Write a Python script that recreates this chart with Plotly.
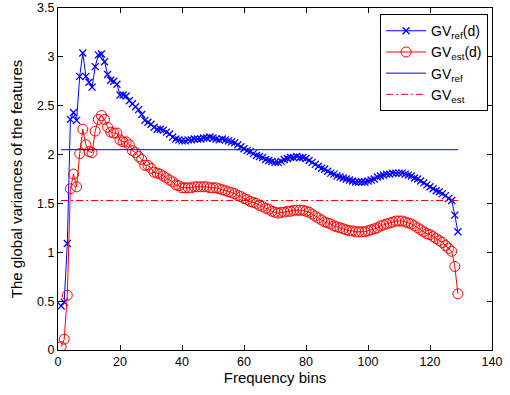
import plotly.graph_objects as go

bins = list(range(1, 130))

gv_ref_d = [0.45, 0.49, 1.09, 2.36, 2.43, 2.35, 2.80, 3.04, 2.80, 2.74,
            2.69, 2.90, 3.02, 3.03, 2.95, 2.82, 2.76, 2.75, 2.72, 2.61,
            2.61, 2.60, 2.55, 2.52, 2.49, 2.46, 2.41, 2.35, 2.33, 2.31,
            2.28, 2.26, 2.26, 2.25, 2.23, 2.21, 2.18, 2.16, 2.15, 2.14,
            2.14, 2.15, 2.15, 2.16, 2.16, 2.16, 2.17, 2.17, 2.18, 2.17,
            2.16, 2.15, 2.16, 2.15, 2.14, 2.13, 2.12, 2.10, 2.08, 2.06,
            2.04, 2.03, 2.01, 1.99, 1.98, 1.97, 1.95, 1.94, 1.93, 1.92,
            1.92, 1.93, 1.95, 1.96, 1.97, 1.97, 1.98, 1.97, 1.97, 1.96,
            1.94, 1.92, 1.90, 1.88, 1.86, 1.85, 1.83, 1.81, 1.80, 1.78,
            1.77, 1.76, 1.75, 1.74, 1.73, 1.72, 1.72, 1.72, 1.72, 1.73,
            1.74, 1.75, 1.77, 1.78, 1.79, 1.80, 1.80, 1.81, 1.81, 1.81,
            1.81, 1.80, 1.79, 1.78, 1.76, 1.75, 1.73, 1.71, 1.69, 1.67,
            1.65, 1.63, 1.62, 1.60, 1.58, 1.55, 1.53, 1.38, 1.21]

gv_est_d = [0.035, 0.11, 0.56, 1.65, 1.80, 1.67, 2.01, 2.26, 2.10, 2.03,
            2.02, 2.24, 2.36, 2.40, 2.36, 2.28, 2.23, 2.22, 2.22, 2.15,
            2.13, 2.13, 2.10, 2.04, 2.02, 1.98, 1.95, 1.89, 1.89, 1.86,
            1.82, 1.81, 1.80, 1.78, 1.76, 1.74, 1.72, 1.69, 1.68, 1.66,
            1.66, 1.66, 1.66, 1.67, 1.67, 1.67, 1.67, 1.67, 1.66, 1.66,
            1.66, 1.65, 1.64, 1.63, 1.62, 1.61, 1.60, 1.58, 1.57, 1.55,
            1.54, 1.52, 1.51, 1.50, 1.48, 1.47, 1.45, 1.44, 1.42, 1.41,
            1.40, 1.41, 1.41, 1.42, 1.42, 1.43, 1.43, 1.43, 1.43, 1.42,
            1.41, 1.39, 1.37, 1.35, 1.33, 1.31, 1.30, 1.29, 1.27, 1.26,
            1.25, 1.24, 1.23, 1.22, 1.22, 1.21, 1.21, 1.21, 1.21, 1.22,
            1.23, 1.24, 1.25, 1.27, 1.28, 1.29, 1.30, 1.31, 1.32, 1.32,
            1.32, 1.31, 1.30, 1.29, 1.27, 1.25, 1.23, 1.21, 1.19, 1.18,
            1.16, 1.14, 1.12, 1.10, 1.07, 1.04, 1.01, 0.855, 0.575]

gv_ref = 2.05
gv_est = 1.53

x_ticks = [0, 20, 40, 60, 80, 100, 120, 140]
y_ticks = [0, 0.5, 1, 1.5, 2, 2.5, 3, 3.5]

BLUE = "rgb(0,0,255)"
RED = "rgb(255,0,0)"

fig = go.Figure()
fig.add_trace(go.Scatter(
    x=bins, y=gv_ref_d, mode="lines+markers", name="GV<sub>ref</sub>(d)",
    line=dict(color=BLUE, width=1),
    marker=dict(symbol="x-thin-open", size=7, color=BLUE,
                line=dict(color=BLUE, width=1.3))))
fig.add_trace(go.Scatter(
    x=bins, y=gv_est_d, mode="lines+markers", name="GV<sub>est</sub>(d)",
    line=dict(color=RED, width=1),
    marker=dict(symbol="circle-open", size=10, color=RED,
                line=dict(color=RED, width=1))))
fig.add_trace(go.Scatter(
    x=[bins[0], bins[-1]], y=[gv_ref, gv_ref], mode="lines",
    name="GV<sub>ref</sub>", line=dict(color=BLUE, width=1)))
fig.add_trace(go.Scatter(
    x=[bins[0], bins[-1]], y=[gv_est, gv_est], mode="lines",
    name="GV<sub>est</sub>", line=dict(color=RED, width=1, dash="7px,3px,2px,3px")))

axis_common = dict(showline=True, linecolor="black", linewidth=1, mirror="ticks",
                   ticks="inside", ticklen=5, tickcolor="black", showgrid=False,
                   zeroline=False, automargin=False,
                   tickfont=dict(size=12.5, color="black"))

fig.update_layout(
    width=510, height=395,
    margin=dict(l=58, r=18, t=8, b=45, autoexpand=False),
    paper_bgcolor="white", plot_bgcolor="white",
    font=dict(family="Liberation Sans, Arial, sans-serif", color="black", size=12),
    xaxis=dict(range=[0, 140], tickvals=x_ticks, **axis_common,
               title=dict(text="Frequency bins", font=dict(size=15), standoff=3)),
    yaxis=dict(range=[0, 3.5], tickvals=y_ticks, **axis_common,
               title=dict(text="The global variances of the features", font=dict(size=15), standoff=10)),
    legend=dict(x=0.991, y=0.982, xanchor="right", yanchor="top",
                bordercolor="black", borderwidth=1, bgcolor="white",
                font=dict(size=14), tracegroupgap=0, itemwidth=40),
    showlegend=True,
)

fig.write_html("out.html", config={"displayModeBar": False},
               post_script="document.body.style.margin='0';")
